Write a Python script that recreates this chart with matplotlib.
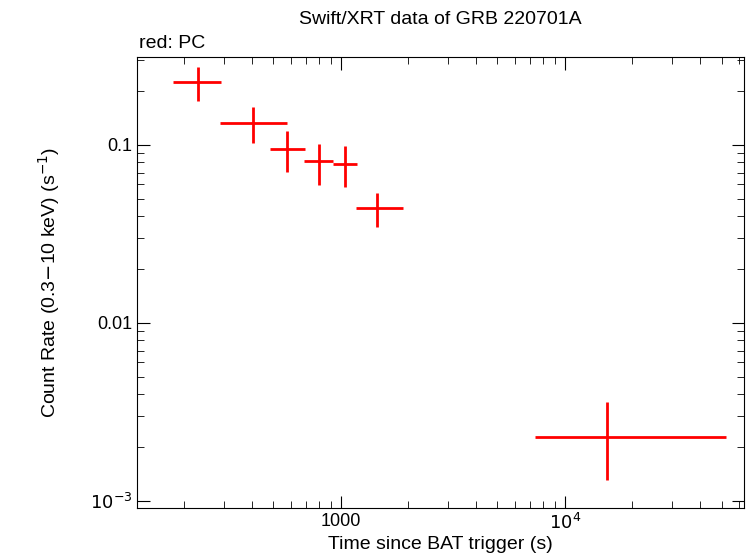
import matplotlib
matplotlib.use("Agg")
import matplotlib.pyplot as plt
from matplotlib.ticker import FixedLocator, NullFormatter, FixedFormatter

plt.rcParams['font.family'] = 'Liberation Sans'

# light curve bins (PC mode)
t_mid = [230, 404, 574, 798, 1042, 1448, 15400]
t_lo = [178, 288, 482, 684, 921, 1166, 7350]
t_hi = [291, 574, 690, 921, 1179, 1891, 52300]
rate = [0.226, 0.133, 0.095, 0.0813, 0.078, 0.0443, 0.00229]
rate_hi = [0.274, 0.163, 0.12, 0.101, 0.099, 0.0537, 0.00358]
rate_lo = [0.177, 0.103, 0.0705, 0.0596, 0.058, 0.0346, 0.00131]

xerr = [[m - l for m, l in zip(t_mid, t_lo)], [h - m for m, h in zip(t_mid, t_hi)]]
yerr = [[r - l for r, l in zip(rate, rate_lo)], [h - r for r, h in zip(rate, rate_hi)]]

fig = plt.figure(figsize=(7.46, 5.58), dpi=100)
ax = fig.add_axes([137/746, 1 - 508/558, (744-137)/746, (508-57)/558])
ax.errorbar(t_mid, rate, xerr=xerr, yerr=yerr, fmt='none', ecolor='#ff0000', elinewidth=2, capsize=0)
ax.set_xscale('log')
ax.set_yscale('log')
ax.set_xlim(123, 63000)
ax.set_ylim(0.000913, 0.312)

ax.xaxis.set_major_locator(FixedLocator([1000, 10000]))
ax.xaxis.set_major_formatter(FixedFormatter(['1000', r'$10^4$']))
ax.yaxis.set_major_locator(FixedLocator([0.001, 0.01, 0.1]))
ax.yaxis.set_major_formatter(FixedFormatter([r'$10^{-3}$', '0.01', '0.1']))
ax.xaxis.set_minor_formatter(NullFormatter())
ax.yaxis.set_minor_formatter(NullFormatter())
ax.tick_params(which='both', direction='in', top=True, right=True, labelsize=13)
ax.tick_params(which='major', length=9)
ax.tick_params(which='minor', length=5)

ax.set_xlabel('Time since BAT trigger (s)', fontsize=14, labelpad=2)
ax.set_ylabel(r'Count Rate (0.3$-$10 keV) (s$^{-1}$)', fontsize=14, labelpad=20)
fig.text(440/746, 1 - 20/558, 'Swift/XRT data of GRB 220701A', ha='center', va='center', fontsize=14)
fig.text(139/746, 1 - 43/558, 'red: PC', ha='left', va='center', fontsize=14)

fig.savefig('out.png', dpi=100)
